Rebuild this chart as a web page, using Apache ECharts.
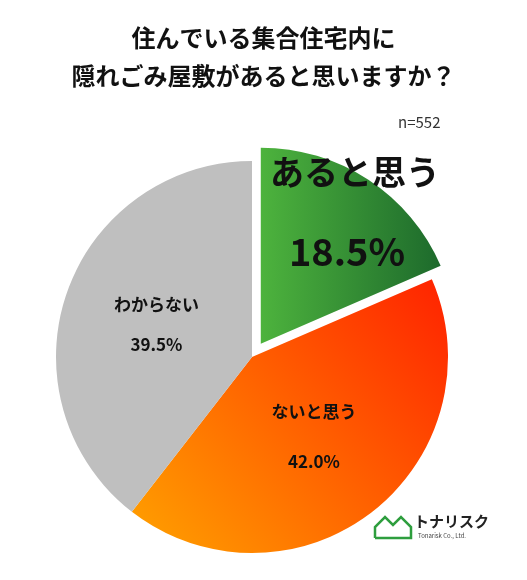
<!DOCTYPE html>
<html><head><meta charset="utf-8">
<script src="https://cdn.jsdelivr.net/npm/echarts@6/dist/echarts.min.js"></script>
<style>html,body{margin:0;background:#fff}#c{width:527px;height:580px}</style>
</head><body><div id="c"></div>
<script>
const categories = ['あると思う', 'ないと思う', 'わからない'];
const values = [18.5, 42.0, 39.5];
const sampleLabel = 'n=552';

const FONT = '"Noto Sans CJK JP", sans-serif';
const chart = echarts.init(document.getElementById('c'));

const styles = [
    {
        color: new echarts.graphic.LinearGradient(0, 0, 1, 0, [
            { offset: 0, color: '#4db33d' }, { offset: 1, color: '#1d6a2c' }
        ]),
        label: { show: false }
    },
    {
        color: new echarts.graphic.LinearGradient(0, 1, 1, 0, [
            { offset: 0, color: '#ffa200' }, { offset: 1, color: '#ff2200' }
        ]),
        label: { fontSize: 17, lineHeight: 50, color: '#111' }
    },
    { color: '#bfbfbf', label: { fontSize: 17, lineHeight: 40, color: '#111' } }
];

chart.setOption({
    title: {
        text: '住んでいる集合住宅内に\n隠れごみ屋敷があると思いますか？',
        left: 'center',
        top: 14,
        textStyle: { fontFamily: FONT, fontSize: 24, fontWeight: 'bold', color: '#111', lineHeight: 38 }
    },
    graphic: [
        { type: 'text', left: 398, top: 115, style: { text: sampleLabel, fontFamily: FONT, fontSize: 15, fill: '#333' } },
        { type: 'text', z: 100, x: 355, y: 172, style: { text: categories[0], fontFamily: FONT, fontSize: 34, fontWeight: 'bold', fill: '#111', align: 'center', verticalAlign: 'middle' } },
        { type: 'text', z: 100, x: 347, y: 252, style: { text: values[0].toFixed(1) + '%', fontFamily: FONT, fontSize: 38, fontWeight: 'bold', fill: '#111', align: 'center', verticalAlign: 'middle' } },
        { type: 'polyline', shape: { points: [[375, 538], [375, 527], [385, 517], [393, 525], [401, 517], [411, 527], [411, 538], [375, 538]] },
          style: { stroke: '#2e9e3e', lineWidth: 2.5, fill: 'none' } },
        { type: 'text', left: 414, top: 514, style: { text: 'トナリスク', fontFamily: FONT, fontSize: 15, fontWeight: 'bold', fill: '#222' } },
        { type: 'text', left: 418, top: 533, style: { text: 'Tonarisk Co., Ltd.', fontFamily: FONT, fontSize: 6, fill: '#444' } }
    ],
    series: [{
        type: 'pie',
        center: [252, 357],
        radius: 196,
        startAngle: 90,
        clockwise: true,
        selectedMode: 'single',
        selectedOffset: 16,
        label: {
            position: 'inside',
            fontFamily: FONT,
            fontWeight: 'bold',
            formatter: p => p.name + '\n' + p.value.toFixed(1) + '%'
        },
        labelLine: { show: false },
        itemStyle: { borderWidth: 0 },
        emphasis: { disabled: true },
        data: categories.map((name, i) => ({
            name,
            value: values[i],
            selected: i === 0,
            itemStyle: { color: styles[i].color },
            label: styles[i].label
        }))
    }]
});
</script></body></html>
